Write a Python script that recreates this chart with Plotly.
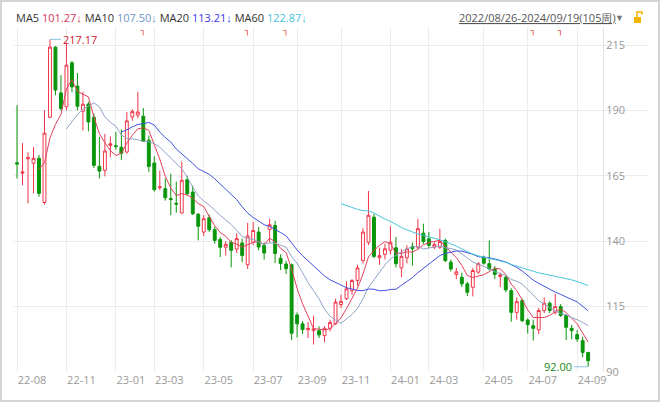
import pandas as pd
import plotly.graph_objects as go

# weekly OHLC, 105 trading weeks 2022/08/26 - 2024/09/19
opens = [170.0, 166.0, 171.5, 169.8, 171.7, 154.8, 187.4, 214.2, 196.7, 191.4,
         208.2, 199.3, 189.7, 192.4, 187.4, 168.6, 167.1, 176.6, 176.5, 175.9,
         174.1, 187.5, 188.2, 187.8, 178.6, 169.9, 160.5, 160.1, 156.3, 154.5,
         150.8, 163.5, 158.8, 150.3, 143.5, 149.0, 144.4, 140.7, 137.7, 139.6,
         137.0, 139.3, 131.0, 139.6, 143.5, 138.4, 144.5, 146.0, 133.5, 131.3,
         131.0, 111.8, 108.4, 106.2, 105.8, 105.8, 103.9, 106.7, 108.4, 115.8,
         118.0, 121.1, 125.0, 132.6, 139.6, 149.2, 133.7, 135.0, 136.5, 137.5,
         129.8, 133.7, 138.0, 137.7, 143.1, 140.9, 137.7, 137.7, 140.3, 132.0,
         127.3, 126.2, 123.7, 122.4, 128.2, 133.9, 131.4, 129.4, 126.5, 126.2,
         121.1, 112.8, 117.3, 109.9, 107.7, 106.1, 113.5, 116.3, 112.8, 115.0,
         111.6, 106.7, 104.3, 102.0, 97.5]
highs = [192.0, 177.5, 174.0, 176.0, 173.0, 190.1, 217.17, 214.6, 203.5, 215.8,
         208.9, 204.3, 197.1, 193.3, 188.9, 179.9, 181.0, 180.1, 181.8, 182.7,
         189.4, 190.5, 197.1, 190.9, 180.4, 172.5, 167.0, 164.0, 165.8, 162.8,
         170.5, 165.0, 161.3, 150.8, 150.0, 150.2, 145.5, 141.5, 140.0, 140.4,
         143.0, 141.0, 147.0, 147.3, 145.5, 139.5, 148.6, 147.8, 135.0, 132.5,
         131.5, 112.8, 109.5, 109.1, 111.5, 107.5, 107.5, 110.0, 118.0, 119.6,
         124.7, 125.5, 131.0, 145.0, 159.2, 150.5, 137.5, 139.0, 145.7, 141.6,
         137.0, 138.5, 139.5, 148.6, 146.7, 143.5, 139.5, 144.8, 141.0, 133.0,
         129.8, 128.0, 124.5, 129.8, 132.0, 134.5, 140.3, 130.5, 128.0, 127.0,
         122.0, 118.5, 118.0, 110.5, 110.0, 114.5, 118.5, 117.0, 119.9, 116.0,
         112.0, 108.0, 106.0, 103.5, 97.6]
lows = [164.0, 161.4, 154.5, 158.3, 157.0, 154.0, 187.0, 195.8, 190.0, 190.0,
        197.0, 190.0, 182.4, 182.0, 168.0, 164.0, 164.8, 172.2, 175.0, 171.0,
        173.5, 186.0, 187.0, 178.0, 166.5, 159.0, 159.5, 155.5, 149.9, 150.9,
        150.5, 157.5, 150.0, 140.3, 142.0, 143.5, 139.0, 133.9, 134.5, 130.0,
        135.5, 132.0, 129.4, 138.5, 136.5, 133.0, 139.6, 131.7, 129.0, 127.5,
        102.2, 103.2, 104.5, 103.0, 100.5, 103.0, 101.4, 105.5, 108.0, 114.5,
        117.5, 119.5, 123.0, 131.5, 138.5, 133.5, 131.0, 133.0, 135.0, 130.0,
        126.2, 131.5, 130.7, 137.0, 139.0, 137.5, 137.0, 137.0, 132.0, 128.5,
        125.5, 122.5, 119.0, 118.9, 127.5, 131.0, 128.8, 125.5, 122.5, 120.5,
        109.2, 110.0, 109.0, 104.7, 102.0, 104.5, 112.5, 112.5, 112.0, 111.0,
        102.2, 102.5, 101.5, 95.6, 92.0]
closes = [169.5, 166.5, 172.0, 171.7, 158.3, 181.3, 214.2, 197.8, 190.7, 207.3,
          199.0, 191.6, 192.4, 185.6, 169.0, 166.8, 174.5, 177.3, 176.2, 173.6,
          186.0, 189.6, 189.4, 178.3, 168.6, 159.7, 160.8, 156.6, 156.0, 154.2,
          163.3, 158.2, 150.5, 145.7, 148.6, 144.4, 140.3, 137.7, 138.8, 136.5,
          141.0, 134.5, 142.0, 144.1, 137.8, 135.5, 146.3, 135.3, 131.5, 129.5,
          104.8, 108.4, 106.2, 106.7, 106.5, 104.2, 106.7, 108.9, 116.7, 117.0,
          121.8, 125.0, 129.8, 143.5, 149.9, 134.2, 134.5, 137.1, 139.6, 131.4,
          134.2, 137.1, 137.1, 144.8, 139.9, 138.4, 138.8, 139.9, 132.6, 129.4,
          128.3, 123.7, 120.5, 128.8, 131.4, 131.6, 129.4, 127.3, 127.1, 121.4,
          112.8, 116.9, 109.6, 108.1, 106.7, 113.5, 116.3, 113.5, 115.0, 111.6,
          107.1, 105.8, 102.6, 97.5, 94.3]

weeks = list(range(len(closes)))

tick_pos = [0, 9, 18, 25, 34, 43, 51, 59, 68, 75, 85, 93, 102]
tick_text = ["22-08", "22-11", "23-01", "23-03", "23-05", "23-07", "23-09",
             "23-11", "24-01", "24-03", "24-05", "24-07", "24-09"]
y_ticks = [90, 115, 140, 165, 190, 215]

event_weeks = [23, 42, 49, 94, 99]

ma_windows = [5, 10, 20, 60]
ma_colors = ["#e2405a", "#8ea4c6", "#4150e0", "#49c6dc"]
ma_label_colors = ["#d43358", "#6f95c6", "#3a3ae6", "#3fc3d6"]
ma_last = ["101.27", "107.50", "113.21", "122.87"]
date_span = "2022/08/26-2024/09/19(105周)"

UP = "#f0364a"
DOWN = "#0a960a"
GRID = "#ececec"

# plot box in pixels, used to place the header bits
L, R, T, B = 14, 648, 27, 372


def px(x, y):
    return (x - L) / (R - L), (B - y) / (B - T)


df = pd.DataFrame({"o": opens, "h": highs, "l": lows, "c": closes})

fig = go.Figure()
fig.add_trace(go.Candlestick(
    x=weeks, open=df.o, high=df.h, low=df.l, close=df.c,
    increasing=dict(line=dict(color=UP, width=1), fillcolor="#ffffff"),
    decreasing=dict(line=dict(color=DOWN, width=1), fillcolor=DOWN),
    whiskerwidth=0, hoverinfo="skip",
))

for w, col in zip(ma_windows, ma_colors):
    ma = df.c.rolling(w).mean()
    fig.add_trace(go.Scatter(x=weeks, y=ma, mode="lines",
                             line=dict(color=col, width=1), hoverinfo="skip"))

# little red event flags along the top
fig.add_trace(go.Scatter(
    x=event_weeks, y=[220.2] * len(event_weeks), mode="text", text=["┐"] * len(event_weeks),
    textfont=dict(color="#e00000", size=8), cliponaxis=False, hoverinfo="skip",
))

# max / min labels
imax = int(df.h.idxmax())
imin = int(df.l.idxmin())
fig.add_annotation(x=imax, y=df.h[imax], text=f"{df.h[imax]:.2f}", showarrow=True,
                   arrowhead=0, arrowwidth=1, arrowcolor="#8cc6e6", ax=11, ay=0,
                   xanchor="left", font=dict(color="#d0202c", size=11))
fig.add_annotation(x=imin, y=df.l[imin], text=f"{df.l[imin]:.2f}", showarrow=True,
                   arrowhead=0, arrowwidth=1, arrowcolor="#8cc6e6", ax=-14, ay=0,
                   xanchor="right", font=dict(color="#1a8a1a", size=11))

# header: MA values
parts = []
for w, c, v in zip(ma_windows, ma_label_colors, ma_last):
    parts.append(f"MA{w} <span style='color:{c}'>{v}↓</span>")
hx, hy = px(14, 17)
fig.add_annotation(xref="paper", yref="paper", x=hx, y=hy, text=" ".join(parts),
                   showarrow=False, xanchor="left", yanchor="middle",
                   font=dict(color="#333333", size=11))

dx, dy = px(618, 17)
fig.add_annotation(xref="paper", yref="paper", x=dx, y=dy,
                   text=f"<span style='text-decoration:underline'>{date_span}</span>",
                   showarrow=False, xanchor="right", yanchor="middle",
                   font=dict(color="#555555", size=11))
tx, ty = px(626, 17)
fig.add_annotation(xref="paper", yref="paper", x=tx, y=ty, text="▼", showarrow=False,
                   yanchor="middle", font=dict(color="#777777", size=9))

# lock icon + outer frame
lx0, ly0 = px(634, 23)
lx1, ly1 = px(641, 17)
sx0, sy0 = px(637, 17)
sx1, sy1 = px(642, 12)
fo0, fb0 = px(1, 401)
fo1, fb1 = px(659, 1)
fig.update_layout(shapes=[
    dict(type="rect", xref="paper", yref="paper", x0=lx0, y0=ly0, x1=lx1, y1=ly1,
         fillcolor="#f2b400", line=dict(width=0)),
    dict(type="path", xref="paper", yref="paper",
         path=f"M {sx0},{sy0} L {sx0},{sy1} L {sx1},{sy1} L {sx1},{(sy0 + sy1) / 2}",
         line=dict(color="#f2b400", width=1.5)),
    dict(type="rect", xref="paper", yref="paper", x0=fo0, y0=fb0, x1=fo1, y1=fb1,
         line=dict(color="#d4d4d4", width=2)),
])

sep = (603 - L) / (R - L)
fig.update_layout(
    width=660, height=402,
    margin=dict(l=L, r=660 - R, t=T, b=402 - B),
    paper_bgcolor="white", plot_bgcolor="white",
    showlegend=False,
    boxgap=0.25,
    font=dict(family="Open Sans, sans-serif"),
    xaxis=dict(range=[-0.55, 114.9], tickvals=tick_pos, ticktext=tick_text,
               showgrid=True, gridcolor=GRID, gridwidth=1, zeroline=False,
               ticks="", ticklabelshift=15, tickfont=dict(color="#999999", size=11),
               rangeslider=dict(visible=False), fixedrange=True),
    yaxis=dict(range=[90, 221.9], tickvals=y_ticks, showgrid=True, gridcolor=GRID,
               zeroline=False, side="right", anchor="free", position=sep,
               showline=True, linecolor="#e4e4e4", ticks="",
               tickfont=dict(color="#999999", size=11), fixedrange=True),
)

# the page body has a default 8px margin; drop it so the chart sits at 0,0
fig.write_html("out.html", config={"displayModeBar": False},
               post_script="document.body.style.margin='0';")
